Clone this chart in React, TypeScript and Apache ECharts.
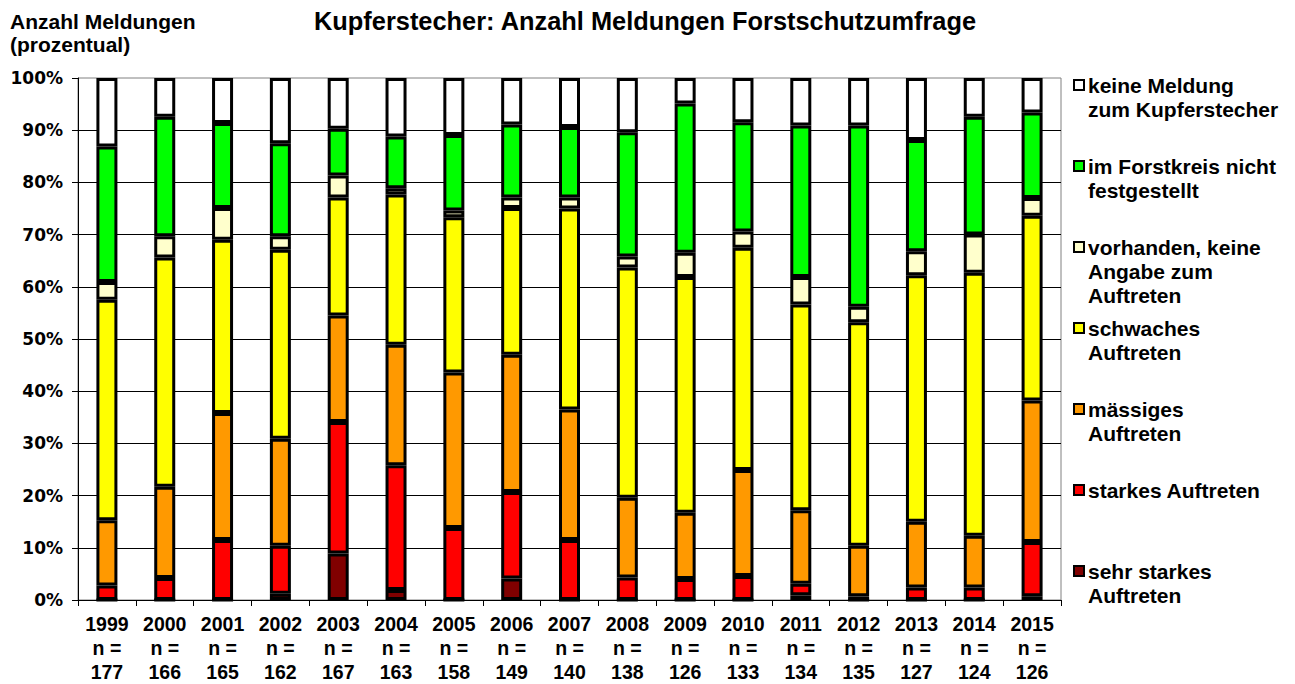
import React, { useEffect, useRef } from "react";
import * as echarts from "echarts";

const years = ["1999","2000","2001","2002","2003","2004","2005","2006","2007","2008","2009","2010","2011","2012","2013","2014","2015"];
const nCounts = [177,166,165,162,167,163,158,149,140,138,126,133,134,135,127,124,126];
const yTickLabels = ["0%","10%","20%","30%","40%","50%","60%","70%","80%","90%","100%"];

const sehrStark = [0,0,0,1.2,8.9,1.9,0,4.1,0,0,0,0,0.9,0,0,0,0.7];
const stark = [2.8,4.2,11.5,9.2,25.2,23.9,13.8,16.6,11.5,4.3,4.0,4.6,2.2,0.7,2.4,2.4,10.4];
const maessig = [12.5,17.5,24.3,20.5,20.4,23.1,29.8,26.3,25.0,15.3,12.7,20.3,14.1,9.7,12.6,9.9,27.1];
const schwach = [42.2,43.9,33.2,36.2,22.6,28.8,29.7,28.1,38.5,44.1,45.2,42.6,39.4,42.8,47.2,50.4,35.4];
const vorhanden = [3.4,4.1,6.1,2.6,4.2,1.2,1.3,2.0,2.1,2.1,4.6,3.1,5.3,3.0,4.6,7.3,3.4];
const nichtFest = [26.0,22.9,16.3,17.8,9.0,9.9,14.5,14.0,13.5,23.8,28.6,20.9,29.0,34.7,21.3,22.6,16.4];
const keine = [13.1,7.4,8.6,12.5,9.7,11.2,10.9,8.9,9.4,10.4,4.9,8.5,9.1,9.1,11.9,7.4,6.6];

const seriesDefs = [
  { name: "sehr starkes\nAuftreten", data: sehrStark, color: "#800000" },
  { name: "starkes Auftreten", data: stark, color: "#FF0000" },
  { name: "mässiges\nAuftreten", data: maessig, color: "#FF9900" },
  { name: "schwaches\nAuftreten", data: schwach, color: "#FFFF00" },
  { name: "vorhanden, keine\nAngabe zum\nAuftreten", data: vorhanden, color: "#FFFFCC" },
  { name: "im Forstkreis nicht\nfestgestellt", data: nichtFest, color: "#00FF00" },
  { name: "keine Meldung\nzum Kupferstecher", data: keine, color: "#FFFFFF" },
];

const ARIAL = '"Liberation Sans", Arial, sans-serif';

export default function App() {
  const ref = useRef<HTMLDivElement>(null);
  useEffect(() => {
    if (!ref.current) return;
    const chart = echarts.init(ref.current, null, { renderer: "svg" });

    const legendItems = [...seriesDefs].reverse();
    const legendTop = 85;
    const legendStep = 81;
    const lh = 24;
    const graphics: any[] = [];
    legendItems.forEach((s, i) => {
      const cy = legendTop + i * legendStep;
      graphics.push({
        type: "rect",
        shape: { x: 1074, y: cy - 5, width: 10, height: 10 },
        style: { fill: s.color, stroke: "#000", lineWidth: 2 },
      });
      graphics.push({
        type: "text",
        x: 1088,
        y: cy - lh / 2,
        style: {
          text: s.name,
          font: `bold 21px ${ARIAL}`,
          fill: "#000",
          lineHeight: lh,
          align: "left",
          verticalAlign: "top",
        },
      });
    });

    chart.setOption({
      animation: false,
      backgroundColor: "#fff",
      title: [
        {
          text: "Kupferstecher: Anzahl Meldungen Forstschutzumfrage",
          left: 640,
          textAlign: "center",
          top: 3,
          textStyle: { fontFamily: ARIAL, fontWeight: "bold", fontSize: 25.4, color: "#000" },
        },
        {
          text: "Anzahl Meldungen\n(prozentual)",
          left: 5,
          top: 5,
          textStyle: { fontFamily: ARIAL, fontWeight: "bold", fontSize: 21, lineHeight: 23, color: "#000" },
        },
      ],
      grid: {
        left: 78,
        right: 234,
        top: 78,
        bottom: 83,
        show: true,
        borderColor: "#808080",
        borderWidth: 1,
        backgroundColor: "transparent",
      },
      xAxis: {
        type: "category",
        data: years,
        axisLine: { lineStyle: { color: "#000", width: 1 } },
        axisTick: { show: true, length: 6, lineStyle: { color: "#000" } },
        axisLabel: {
          interval: 0,
          margin: 12,
          fontFamily: ARIAL,
          fontWeight: "bold",
          fontSize: 19.5,
          lineHeight: 24,
          color: "#000",
          formatter: (v: string, i: number) => `${v}\nn =\n${nCounts[i]}`,
        },
      },
      yAxis: {
        type: "value",
        min: 0,
        max: 100,
        interval: 10,
        axisLine: { show: true, lineStyle: { color: "#000", width: 1 } },
        axisTick: { show: true, length: 6, lineStyle: { color: "#000" } },
        splitLine: { show: true, showMaxLine: false, lineStyle: { color: "#000", width: 1 } },
        axisLabel: {
          margin: 15,
          fontFamily: '"DejaVu Sans", sans-serif',
          fontWeight: "bold",
          fontSize: 17,
          color: "#000",
          formatter: (v: number) => yTickLabels[Math.round(v / 10)] ?? `${v}%`,
        },
      },
      series: seriesDefs.map((s) => ({
        type: "bar",
        name: s.name,
        stack: "total",
        data: s.data,
        barWidth: 21,
        itemStyle: { color: s.color, borderColor: "#000", borderWidth: 3 },
      })),
      graphic: graphics,
    });
    return () => chart.dispose();
  }, []);
  return <div ref={ref} style={{ width: 1295, height: 684, position: "absolute", left: 0, top: 0 }} />;
}
